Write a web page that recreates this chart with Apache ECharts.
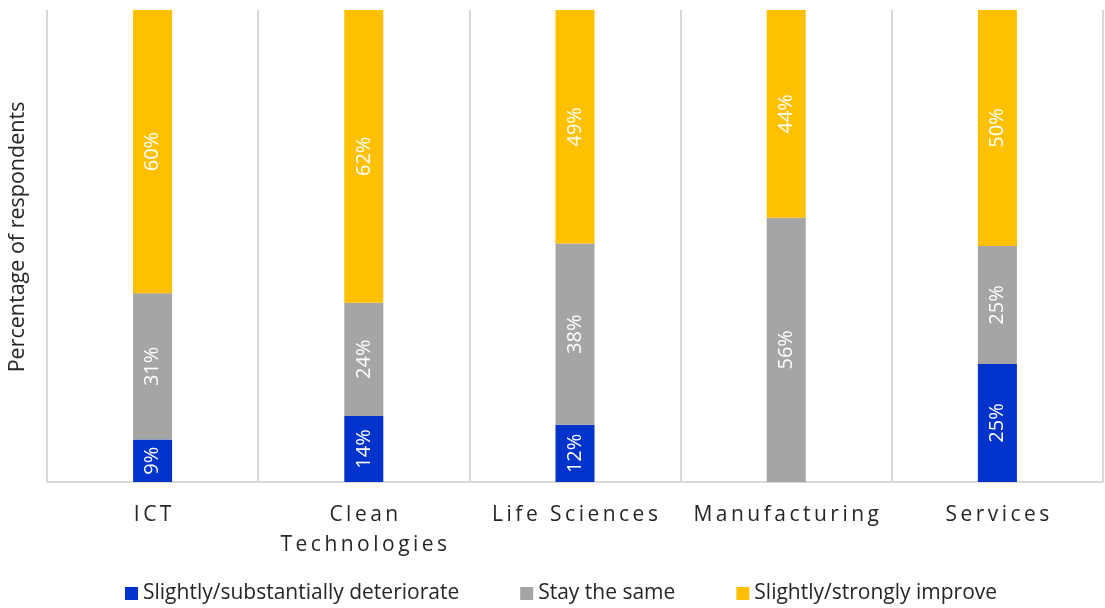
<!DOCTYPE html>
<html>
<head>
<meta charset="utf-8">
<script src="https://cdn.jsdelivr.net/npm/echarts@6/dist/echarts.min.js"></script>
<style>
html,body{margin:0;padding:0;background:#fff;}
#chart{width:1105px;height:608px;}
</style>
</head>
<body>
<div id="chart"></div>
<script>
var categories = ['ICT', 'Clean\nTechnologies', 'Life Sciences', 'Manufacturing', 'Services'];
var deteriorate = [9, 14, 12, 0, 25];
var staySame = [31, 24, 38, 56, 25];
var improve = [60, 62, 49, 44, 50];
var seriesNames = ['Slightly/substantially deteriorate', 'Stay the same', 'Slightly/strongly improve'];
var seriesColors = ['#0033CC', '#A5A5A5', '#FFC000'];

var FONT = 'Open Sans';
var raw = [deteriorate, staySame, improve];
var totals = categories.map(function (c, i) { return deteriorate[i] + staySame[i] + improve[i]; });

function spaced(s) {
  return s.split('\n').map(function (line) { return line.split('').join('\u2009'); }).join('\n');
}

var series = raw.map(function (arr, k) {
  return {
    name: seriesNames[k],
    type: 'bar',
    stack: 'total',
    barWidth: 39,
    itemStyle: { color: seriesColors[k] },
    label: {
      show: true,
      position: 'inside',
      rotate: 90,
      color: '#fff',
      fontFamily: FONT,
      fontSize: 20,
      formatter: function (p) {
        var v = arr[p.dataIndex];
        return v ? v + '%' : '';
      }
    },
    data: arr.map(function (v, i) { return v / totals[i] * 100; })
  };
});

var chart = echarts.init(document.getElementById('chart'));
chart.setOption({
  animation: false,
  grid: { left: 47, right: 2, top: 10, bottom: 126, containLabel: false, outerBoundsMode: 'none' },
  legend: {
    bottom: -1,
    left: 120,
    itemWidth: 13,
    itemHeight: 13,
    itemGap: 61,
    icon: 'rect',
    textStyle: { fontFamily: FONT, fontSize: 21, color: '#262626' },
    data: seriesNames
  },
  xAxis: {
    type: 'category',
    data: categories,
    axisLine: { lineStyle: { color: '#D9D9D9', width: 2 } },
    axisTick: { show: false },
    splitLine: { show: true, lineStyle: { color: '#D9D9D9', width: 2 } },
    axisLabel: {
      fontFamily: FONT,
      fontSize: 21,
      color: '#262626',
      margin: 18,
      lineHeight: 30,
      interval: 0,
      formatter: function (v) { return spaced(v); }
    }
  },
  yAxis: {
    type: 'value',
    min: 0,
    max: 100,
    axisLabel: { show: false },
    axisLine: { show: false },
    axisTick: { show: false },
    splitLine: { show: false },
    name: 'Percentage of respondents',
    nameLocation: 'middle',
    nameRotate: 90,
    nameGap: 18,
    nameTextStyle: { fontFamily: FONT, fontSize: 21.5, color: '#262626', padding: [0, 0, 0, 18] }
  },
  series: series
});
</script>
</body>
</html>
